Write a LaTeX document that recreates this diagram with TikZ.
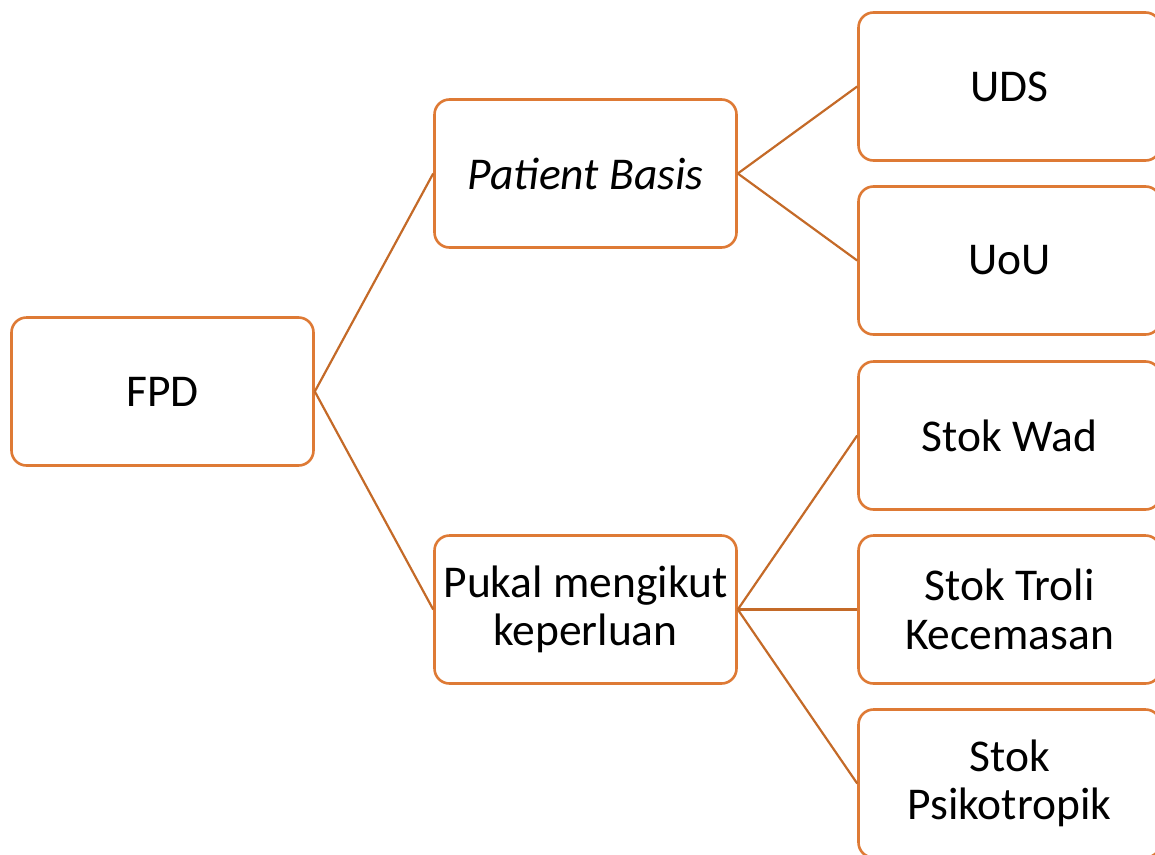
\documentclass[tikz,border=0pt]{standalone}
\usepackage{fontspec}
\setmainfont{Carlito}
\definecolor{boxorange}{HTML}{DE7A35}
\definecolor{lineorange}{HTML}{C46A28}
\tikzset{
  itembox/.style={draw=boxorange, line width=2.6pt, rounded corners=15pt, fill=white,
    minimum width=302pt, minimum height=148pt, align=center, inner sep=0pt,
    font=\fontsize{45.5}{48.5}\selectfont},
  link/.style={draw=lineorange, line width=2.2pt}
}
\begin{document}
\begin{tikzpicture}[x=1pt,y=-1pt]
\useasboundingbox (0,0) rectangle (1155,854);
\clip (0,0) rectangle (1155,854);
\node[itembox] (fpd) at (162.5,391.5) {FPD};
\node[itembox] (pb) at (585.5,173.5) {\itshape Patient Basis};
\node[itembox] (pk) at (585.5,609.5) {Pukal mengikut\\keperluan};
\node[itembox] (uds) at (1009.5,86.5) {UDS};
\node[itembox] (uou) at (1009.5,260.5) {UoU};
\node[itembox] (wad) at (1009.5,435.5) {Stok Wad};
\node[itembox] (troli) at (1009.5,609.5) {Stok Troli\\Kecemasan};
\node[itembox] (psiko) at (1009.5,783.5) {Stok\\Psikotropik};
\draw[link] (fpd.east) -- (pb.west);
\draw[link] (fpd.east) -- (pk.west);
\draw[link] (pb.east) -- (uds.west);
\draw[link] (pb.east) -- (uou.west);
\draw[link] (pk.east) -- (wad.west);
\draw[link] (pk.east) -- (troli.west);
\draw[link] (pk.east) -- (psiko.west);
\end{tikzpicture}
\end{document}
